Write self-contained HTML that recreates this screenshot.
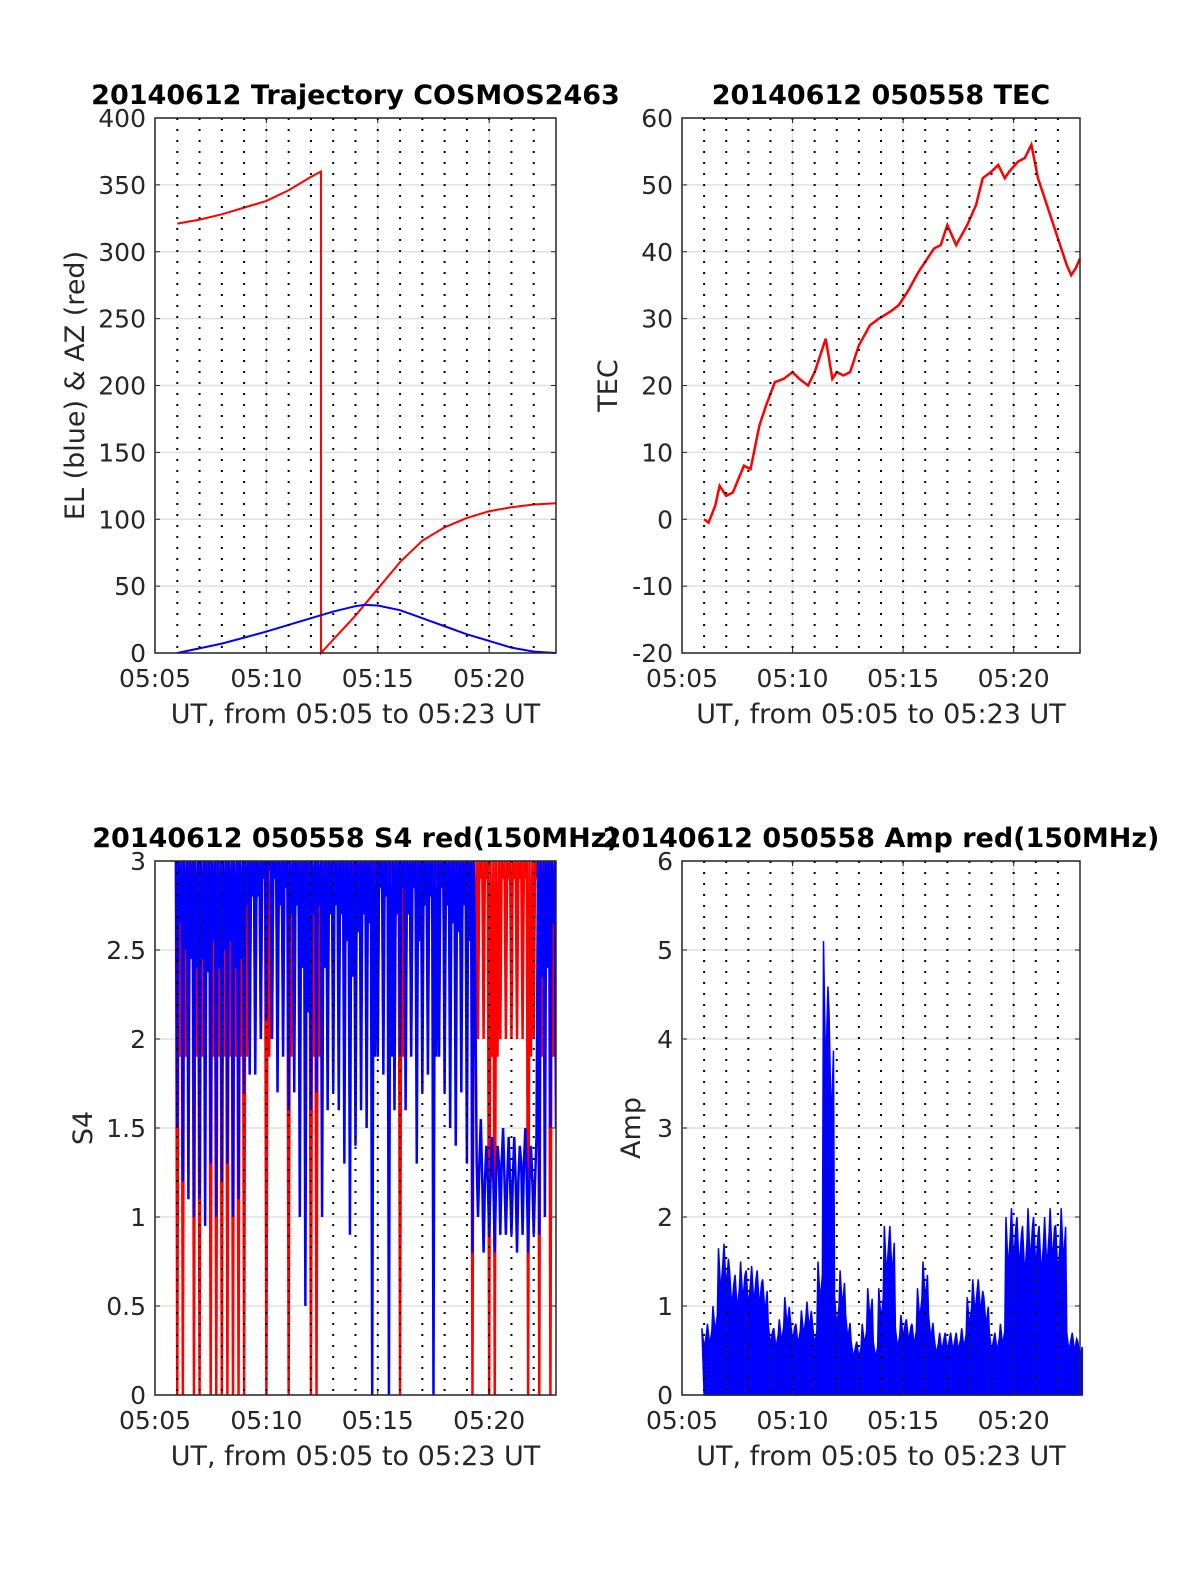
<!DOCTYPE html>
<html><head><meta charset="utf-8"><style>
body{margin:0;background:#fff}
svg text{font-family:"DejaVu Sans","Liberation Sans",sans-serif}
</style></head><body>
<svg id="fig" width="1200" height="1575" xmlns="http://www.w3.org/2000/svg"></svg>
<script>
// ---- data (minutes after 05:05) ----
const xTickLabels=["05:05","05:10","05:15","05:20"];
const azT=[1,2,3,4,5,6,7,7.45,7.45,8,9,10,11,12,13,14,15,16,17,18];
const azV=[321,324,328,333,338,346,356,360,0,10,28,48,68,84,94,101,106,109,111,112];
const elT=[1,3,5,7,8,9,9.4,10,11,12,13,14,15,16,17,18];
const elV=[0,7,16,26,31,35,36,35.5,32,26,20,14,9,4,1,0];
const tecT=[1,1.2,1.5,1.7,2.0,2.3,2.8,3.1,3.5,3.8,4.2,4.6,5.0,5.3,5.7,6.0,6.5,6.8,7.0,7.3,7.6,8.0,8.5,8.9,9.4,9.8,10.2,10.7,11.0,11.4,11.7,12.0,12.4,12.9,13.3,13.6,14.0,14.3,14.6,14.8,15.2,15.5,15.8,16.1,16.4,16.8,17.1,17.4,17.6,17.8,18.0];
const tecV=[0,-0.5,2,5,3.5,4,8,7.5,14,17,20.5,21,22,21,20,22,27,21,22,21.5,22,26,29,30,31,32,34,37,38.5,40.5,41,44,41,44,47,51,52,53,51,52,53.5,54,56,51,48,44,41,38,36.5,37.5,39];
const s4T=[];for(let i=0;i<=68;i++)s4T.push(1+i*0.25);
const blueLo=[1.5,1.2,1.1,1.0,1.1,0.95,1.3,1.0,1.2,1.3,1.0,1.1,1.7,1.8,1.8,2.0,2.1,2.0,1.7,1.9,1.6,1.7,1.0,0.5,1.6,1.7,1.0,1.6,1.7,1.6,1.3,0.9,1.4,1.6,1.5,0.0,1.9,1.8,0.0,1.6,1.9,1.6,1.9,1.3,1.7,1.8,0.0,1.9,1.7,1.5,1.4,1.7,1.3,0.8,1.0,0.8,0.9,0.8,0.9,0.9,0.9,0.8,0.9,0.8,0.9,0.9,1.0,1.5,1.5];
const blueHi=[3,3,3,3,3,3,3,3,3,3,3,3,3,3,3,3,3,3,3,3,3,3,3,3,3,3,3,3,3,3,3,3,3,3,3,3,3,3,3,3,3,3,3,3,3,3,3,3,3,3,3,3,3,3,1.3,1.2,1.2,1.2,1.3,1.2,1.2,1.2,1.3,1.2,1.2,3,3,3,3];
const redLo=[0,0,2,0,0,2,0,0,0,0,0,0,0,2,2,2,0,2,2,2,0,2,2,2,0,0,2,2,2,2,2,2,2,2,2,2,2,2,2,2,0,2,2,2,2,2,2,2,2,2,2,2,2,0,2,2,0,0,2,2,2,2,2,0,2,0,2,0,2];
const redHi=[3,3,3,3,3,3,3,3,3,3,3,3,3,3,3,3,3,3,3,3,3,3,3,3,3,3,3,3,3,3,3,3,3,3,3,3,3,3,3,3,3,3,3,3,3,3,3,3,3,3,3,3,3,3,3,3,3,3,3,3,3,3,3,3,3,3,3,3,3];
const ampT=[];for(let i=0;i<=68;i++)ampT.push(1+i*0.25);
const ampV=[0.75,0.8,1.0,1.65,1.7,1.4,1.35,1.5,1.4,1.45,1.4,1.3,0.8,0.75,0.85,1.1,0.85,0.8,0.95,1.05,0.8,1.5,5.1,4.3,1.1,1.4,0.9,0.6,0.6,0.8,1.2,0.6,1.2,1.9,1.9,0.75,0.9,0.85,0.8,1.2,1.5,0.9,0.65,0.7,0.7,0.7,0.7,0.75,1.1,1.3,1.3,1.1,0.7,0.7,0.8,2.0,2.1,2.0,1.9,2.1,2.0,1.9,2.0,2.1,1.9,2.1,0.7,0.7,0.6];

const NS="http://www.w3.org/2000/svg";
const svg=document.getElementById('fig');
function mk(tag,attrs,parent){const e=document.createElementNS(NS,tag);for(const k in attrs)e.setAttribute(k,attrs[k]);(parent||svg).appendChild(e);return e;}
function axes(x0,y0,w,h,ymin,ymax,ystep,title,ylab,name){
  const g=mk('g',{});
  
  
  const X=t=>x0+t/18*w, Y=v=>y0+h-(v-ymin)/(ymax-ymin)*h;
  for(let v=ymin;v<=ymax+1e-9;v+=ystep){
    const l=mk('line',{x1:x0,x2:x0+w,y1:Y(v),y2:Y(v),stroke:'#e0e0e0','stroke-width':1.5},g);
    
    
    const t=mk('text',{x:x0-9,y:Y(v)+9,'text-anchor':'end','font-size':25,fill:'#262626'},g);
    t.textContent=String(v);
    
    
    mk('line',{x1:x0,x2:x0+5,y1:Y(v),y2:Y(v),stroke:'#262626'},g);
    mk('line',{x1:x0+w-5,x2:x0+w,y1:Y(v),y2:Y(v),stroke:'#262626'},g);
  }
  xTickLabels.forEach((s,i)=>{
    const t=mk('text',{x:X(i*5),y:y0+h+34,'text-anchor':'middle','font-size':25,fill:'#262626'},g);
    t.textContent=s;
    
    
    mk('line',{x1:X(i*5),x2:X(i*5),y1:y0,y2:y0+h,stroke:'#e0e0e0','stroke-width':1.5},g);
  });
  const xl=mk('text',{x:x0+w/2,y:y0+h+70,'text-anchor':'middle','font-size':27,fill:'#262626'},g);
  xl.textContent="UT, from 05:05 to 05:23 UT";
  
  
  const yl=mk('text',{x:0,y:0,'text-anchor':'middle','font-size':27,fill:'#262626',transform:`translate(${ylab.cx},${y0+h/2}) rotate(-90)`},g);
  yl.textContent=ylab.t;
  
  
  const tt=mk('text',{x:x0+w/2,y:y0-14,'text-anchor':'middle','font-size':27,'font-weight':'bold',fill:'#000'},g);
  tt.textContent=title;
  
  
  const plot=mk('g',{},g);
  const top=mk('g',{},g);
  for(let m=1;m<18;m++){
    const l=mk('line',{x1:X(m),x2:X(m),y1:y0,y2:y0+h,stroke:'#000','stroke-width':2,'stroke-dasharray':'2 9'},top);
    
    
  }
  for(let i=0;i<4;i++){
    mk('line',{x1:X(i*5),x2:X(i*5),y1:y0+h,y2:y0+h-5,stroke:'#262626'},top);
    mk('line',{x1:X(i*5),x2:X(i*5),y1:y0,y2:y0+5,stroke:'#262626'},top);
  }
  const b=mk('rect',{x:x0,y:y0,width:w,height:h,fill:'none',stroke:'#262626','stroke-width':1.5},top);
  
  
  return {X,Y,plot};
}
function line(a,T,V,color,name,w){
  const p=mk('polyline',{points:T.map((t,i)=>a.X(t)+','+a.Y(V[i])).join(' '),fill:'none',stroke:color,'stroke-width':w||2},a.plot);
  
  
}
function zig(a,T,Lo,Hi,color,name){
  const pts=[];
  T.forEach((t,i)=>{const dx=0.06;pts.push(a.X(t-dx)+','+a.Y(Hi[i]));pts.push(a.X(t)+','+a.Y(Lo[i]));pts.push(a.X(t+dx)+','+a.Y(Hi[i]));pts.push(a.X(t+0.125)+','+a.Y((Hi[i]+Lo[i])/2+0.4));});
  const p=mk('polyline',{points:pts.join(' '),fill:'none',stroke:color,'stroke-width':2.5},a.plot);
  
  
}
// panel 1
const a1=axes(155,118,401,535,0,400,50,"20140612 Trajectory COSMOS2463",{t:"EL (blue) & AZ (red)",cx:84},'trajectory-panel');
line(a1,azT,azV,'#ff0000','azimuth-line');
line(a1,elT,elV,'#0000ff','elevation-line');
// panel 2
const a2=axes(682,118,398,535,-20,60,10,"20140612 050558 TEC",{t:"TEC",cx:617},'tec-panel');
line(a2,tecT,tecV,'#ff0000','tec-line',2.5);
// panel 3
const a3=axes(155,861,401,534,0,3,0.5,"20140612 050558 S4 red(150MHz)",{t:"S4",cx:92},'s4-panel');
const c3=mk('clipPath',{id:'c3'});mk('rect',{x:155,y:861,width:401,height:534},c3);a3.plot.setAttribute('clip-path','url(#c3)');
zig(a3,s4T,redLo,redHi,'#ff0000','s4-red-series');
zig(a3,s4T,blueLo,blueHi,'#0000ff','s4-blue-series');
// panel 4
const a4=axes(682,861,398,534,0,6,1,"20140612 050558 Amp red(150MHz)",{t:"Amp",cx:640},'amp-panel');
const ap=[a4.X(ampT[0])+','+a4.Y(0)];
ampT.forEach((t,i)=>{ap.push(a4.X(t-0.1)+','+a4.Y(ampV[i]));ap.push(a4.X(t)+','+a4.Y(ampV[i]*0.7));ap.push(a4.X(t+0.1)+','+a4.Y(ampV[i]*0.9));});
ap.push(a4.X(ampT[ampT.length-1]+0.1)+','+a4.Y(0));
const amp=mk('polygon',{points:ap.join(' '),fill:'#0000ff',stroke:'#0000ff','stroke-width':1.5},a4.plot);


</script>
</body></html>
